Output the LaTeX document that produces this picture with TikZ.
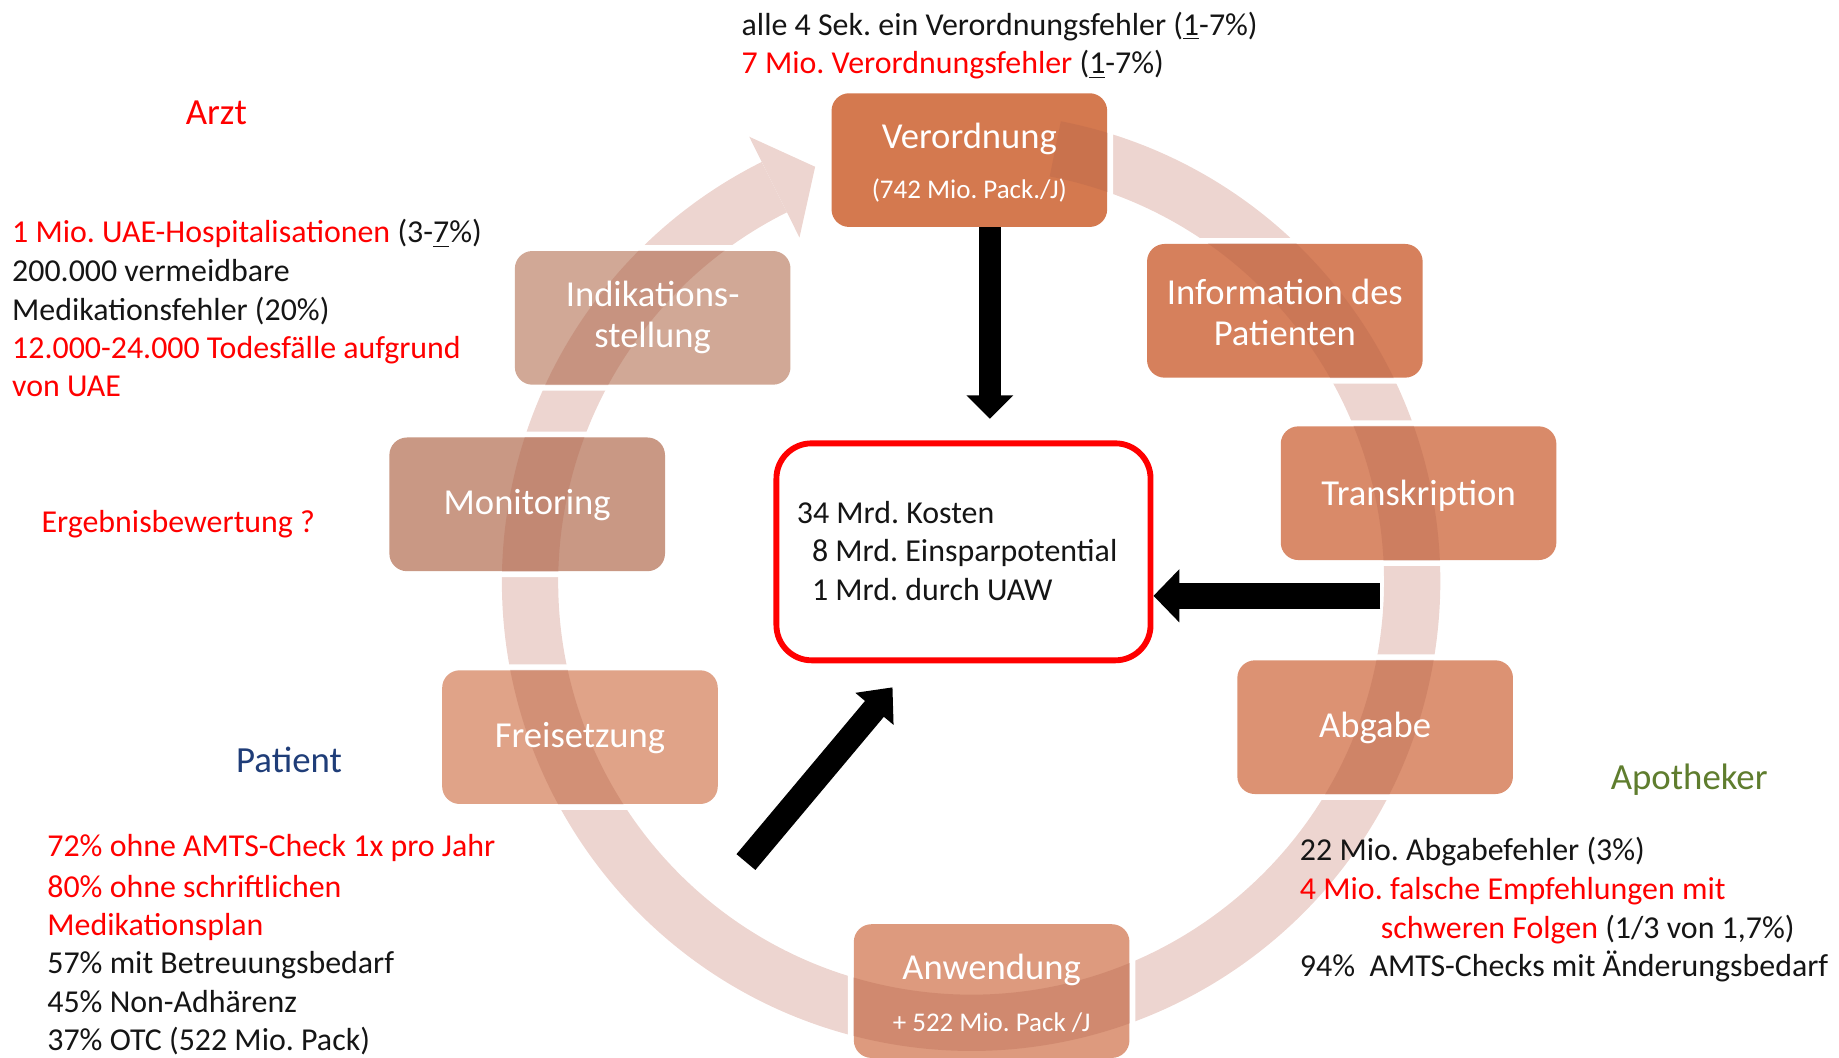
\documentclass[tikz,border=0pt]{standalone}
\usepackage{fontspec}
\setmainfont{Carlito}
\usetikzlibrary{arrows.meta,calc}
\definecolor{tred}{HTML}{FF0000}
\definecolor{tdark}{HTML}{151515}
\definecolor{tblue}{HTML}{1F3D78}
\definecolor{tgreen}{HTML}{5F7D2E}
\definecolor{ringc}{HTML}{EDD5D0}
\definecolor{bandc}{HTML}{B0604A}
\definecolor{cVer}{HTML}{D4794F}
\definecolor{cInf}{HTML}{D6805C}
\definecolor{cTra}{HTML}{D98A69}
\definecolor{cAbg}{HTML}{DC9273}
\definecolor{cAnw}{HTML}{DD9A7E}
\definecolor{cFre}{HTML}{E0A388}
\definecolor{cMon}{HTML}{C99884}
\definecolor{cInd}{HTML}{D1A896}
\frenchspacing
\begin{document}
\begin{tikzpicture}[x=0.5pt,y=-0.5pt,
  txt/.style={anchor=base west, inner sep=0pt, text=tdark, font=\fontsize{13.6}{16.5}\selectfont},
  lbl/.style={anchor=base west, inner sep=0pt, font=\fontsize{15.7}{19}\selectfont},
  cbox/.style={rectangle, rounded corners=7.5pt, minimum width=117.5pt, minimum height=57pt,
    inner sep=0pt, preaction={draw=white, line width=5pt}},
  btxt/.style={inner sep=0pt, text=white, align=center, font=\fontsize{15.6}{17.5}\selectfont},
  ring/.style={draw=ringc, line width=24pt},
  band/.style={draw=bandc, line width=24pt, opacity=0.28},
  blk/.style={draw=black, line width=9.5pt}]
\useasboundingbox (0,0) rectangle (1568,902);
\coordinate (rc) at (828,496);
% ring with arrowhead
\draw[ring] (rc) ++(-79:376) arc[start angle=-79, end angle=243.5, radius=376];
\fill[ringc] ($(rc)+(243.5:424)$) -- ($(rc)+(249.4:378)$) -- ($(rc)+(243.5:328)$) -- cycle;
% cycle boxes
\node[cbox, fill=cVer] (verord) at (826.5,136.5) {};
\node[cbox, fill=cInf] (info) at (1095.5,265) {};
\node[cbox, fill=cTra] (trans) at (1209.5,420.5) {};
\node[cbox, fill=cAbg] (abgabe) at (1172.5,620) {};
\node[cbox, fill=cAnw] (anwend) at (845.5,845) {};
\node[cbox, fill=cFre] (freis) at (494.5,628.5) {};
\node[cbox, fill=cMon] (monit) at (449.5,430) {};
\node[cbox, fill=cInd] (indik) at (556.5,271) {};
% ring seen through boxes
\begin{scope}
\clip[rounded corners=7.5pt]
  (verord.south west) rectangle (verord.north east)
  (info.south west) rectangle (info.north east)
  (trans.south west) rectangle (trans.north east)
  (abgabe.south west) rectangle (abgabe.north east)
  (anwend.south west) rectangle (anwend.north east)
  (freis.south west) rectangle (freis.north east)
  (monit.south west) rectangle (monit.north east)
  (indik.south west) rectangle (indik.north east);
\draw[band] (rc) ++(-79:376) arc[start angle=-79, end angle=243.5, radius=376];
\fill[bandc, opacity=0.28] ($(rc)+(243.5:424)$) -- ($(rc)+(249.4:378)$) -- ($(rc)+(243.5:328)$) -- cycle;
\end{scope}
% box texts
\node[btxt, font=\fontsize{15.6}{21.5}\selectfont] (verordT) at ([yshift=-1pt]verord.center)
  {Verordnung\\{\fontsize{11.5}{21.5}\selectfont (742 Mio. Pack./J)}};
\node[btxt] (infoT) at ([yshift=-0.5pt]info.center) {Information des\\Patienten};
\node[btxt] (transT) at ([yshift=-1pt]trans.center) {Transkription};
\node[btxt] (abgabeT) at ([yshift=-0.5pt]abgabe.center) {Abgabe};
\node[btxt, font=\fontsize{15.6}{22}\selectfont] (anwendT) at ([yshift=-1pt]anwend.center)
  {Anwendung\\{\fontsize{11.5}{22}\selectfont + 522 Mio. Pack /J}};
\node[btxt] (freisT) at ([yshift=-0.5pt]freis.center) {Freisetzung};
\node[btxt] (monitT) at ([yshift=-0.5pt]monit.center) {Monitoring};
\node[btxt] (indikT) at (indik) {Indikations-\\stellung};
% red cost box
\node[rectangle, draw=tred, line width=2.5pt, rounded corners=15pt, minimum width=159.5pt,
  minimum height=92.5pt, fill=white] (kosten) at (821.5,470.5) {};
\node[txt] (k1) at (679,446) {34 Mrd. Kosten};
\node[txt] (k2) at (692,479) {8 Mrd. Einsparpotential};
\node[txt] (k3) at (692,512) {1 Mrd. durch UAW};
% black arrows
\coordinate (dA) at (844,357);
\draw[blk, -{Triangle[width=19.5pt,length=10pt]}] (verord.south -| dA) -- (dA);
\coordinate (lT) at (1177,508);
\draw[blk, line width=11pt, -{Triangle[width=22pt,length=11pt]}] (lT) -- (lT -| kosten.east);
\coordinate (gT) at (636,735);
\coordinate (gH) at (761,586);
\draw[blk, line width=10.5pt, -{Triangle[width=20.5pt,length=12pt]}] (gT) -- (gH);
% texts
\node[txt] (top1) at (632,30) {alle 4 Sek. ein Verordnungsfehler (\underline{1}-7\%)};
\node[txt] (top2) at (632,63) {\textcolor{tred}{7 Mio. Verordnungsfehler} (\underline{1}-7\%)};
\node[lbl, text=tred] (arzt) at (158,106) {Arzt};
\node[txt] (a1) at (10,207) {\textcolor{tred}{1 Mio. UAE-Hospitalisationen} (3-\underline{7}\%)};
\node[txt] (a2) at (10,240) {200.000 vermeidbare};
\node[txt] (a3) at (10,273) {Medikationsfehler (20\%)};
\node[txt, text=tred] (a4) at (10,306) {12.000-24.000 Todesfälle aufgrund};
\node[txt, text=tred] (a5) at (10,338) {von UAE};
\node[txt, text=tred] (erg) at (35,454) {Ergebnisbewertung ?};
\node[lbl, text=tblue] (pat) at (201,659) {Patient};
\node[txt, text=tred] (p1) at (40,730) {72\% ohne AMTS-Check 1x pro Jahr};
\node[txt, text=tred] (p2) at (40,765) {80\% ohne schriftlichen};
\node[txt, text=tred] (p3) at (40,798) {Medikationsplan};
\node[txt] (p4) at (40,830) {57\% mit Betreuungsbedarf};
\node[txt] (p5) at (40,863) {45\% Non-Adhärenz};
\node[txt] (p6) at (40,896) {37\% OTC (522 Mio. Pack)};
\node[lbl, text=tgreen] (apo) at (1373,673) {Apotheker};
\node[txt] (r1) at (1108,734) {22 Mio. Abgabefehler (3\%)};
\node[txt, text=tred] (r2) at (1108,767) {4 Mio. falsche Empfehlungen mit};
\node[txt] (r3) at (1177,800) {\textcolor{tred}{schweren Folgen} (1/3 von 1,7\%)};
\node[txt] (r4) at (1108,833) {94\%\ \ AMTS-Checks mit Änderungsbedarf};
\end{tikzpicture}
\end{document}
